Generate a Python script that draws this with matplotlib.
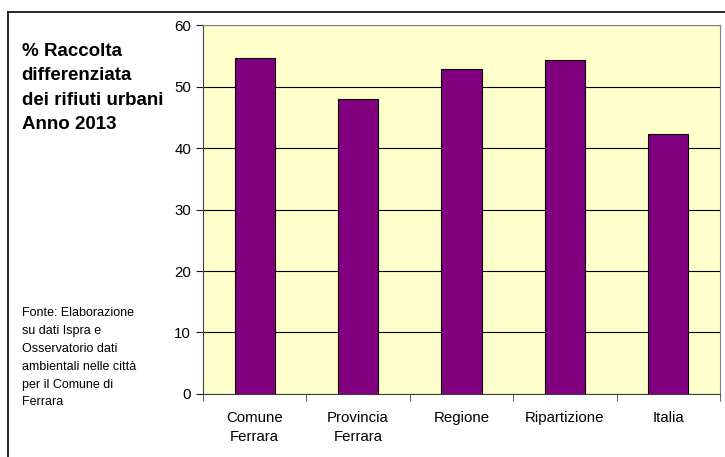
import numpy as np
import matplotlib.pyplot as plt
from matplotlib.lines import Line2D

plt.rcParams['font.family'] = ['Liberation Sans', 'DejaVu Sans']

categories = ['Comune\nFerrara', 'Provincia\nFerrara', 'Regione', 'Ripartizione', 'Italia']
values = [54.6, 48.0, 52.9, 54.3, 42.3]

fig = plt.figure(figsize=(7.25, 4.57), dpi=100)
ax = fig.add_axes([0.280, 0.138, 0.713, 0.807])
ax.set_facecolor('#FFFFCC')

x = np.arange(len(categories))
ax.bar(x, values, width=0.39, color='#800080', edgecolor='black', linewidth=0.8, zorder=3)

ax.set_xlim(-0.5, len(categories) - 0.5)
ax.set_ylim(0, 60)
ax.set_yticks(np.arange(0, 61, 10))
ax.yaxis.grid(True, color='black', linewidth=0.8, zorder=1)

ax.set_xticks(x)
ax.set_xticklabels(categories, fontsize=10.8)
for lab in ax.get_xticklabels():
    lab.set_linespacing(1.45)
ax.set_xticks(np.arange(-0.5, len(categories)), minor=True)
ax.tick_params(axis='x', which='major', length=0, pad=12)
ax.tick_params(axis='x', which='minor', length=5, color='#404040')
ax.tick_params(axis='y', labelsize=10.8, length=5, color='#202020')

for s in ['top', 'right']:
    ax.spines[s].set_color('#808080')
for s in ['left', 'bottom']:
    ax.spines[s].set_color('#404040')

fig.text(0.030, 0.906, '% Raccolta\ndifferenziata\ndei rifiuti urbani\nAnno 2013',
         fontsize=13.5, fontweight='bold', va='top', ha='left', linespacing=1.56)
fig.text(0.030, 0.328, 'Fonte: Elaborazione\nsu dati Ispra e\nOsservatorio dati\nambientali nelle città\nper il Comune di\nFerrara',
         fontsize=9, va='top', ha='left', linespacing=1.65)

fig.add_artist(Line2D([8 / 725, 1], [1 - 12 / 457, 1 - 12 / 457], color='black', linewidth=1.2))
fig.add_artist(Line2D([8 / 725, 8 / 725], [0, 1 - 12 / 457], color='black', linewidth=1.2))

fig.savefig('out.png', dpi=100)
